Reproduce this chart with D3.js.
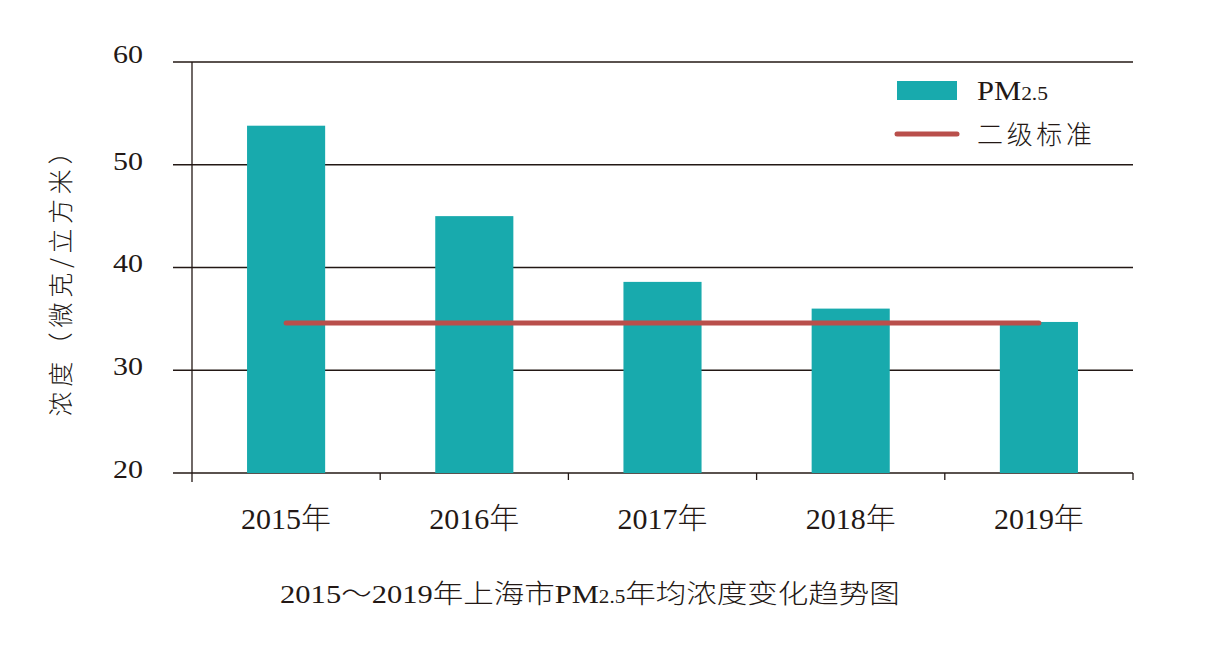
<!DOCTYPE html>
<html><head><meta charset="utf-8">
<script src="https://cdn.jsdelivr.net/npm/d3@7"></script>
<style>body{margin:0;background:#fff} text{font-weight:300}</style>
</head><body>
<svg id="c" width="1225" height="646"></svg>
<script>
const categories = ["2015年","2016年","2017年","2018年","2019年"];
const pm25 = [53.8, 45.0, 38.6, 36.0, 34.7];
const standard = [34.6, 34.6, 34.6, 34.6, 34.6];
const yTicks = [20, 30, 40, 50, 60];

const svg = d3.select("#c");
const L = 192, R = 1133, T = 62, B = 473;
const x = d3.scaleBand().domain(categories).range([L, R]).paddingInner(0.585).paddingOuter(0.2925);
const xb = d3.scaleBand().domain(categories).range([L, R]);
const y = d3.scaleLinear().domain([20, 60]).range([B, T]);
const ink = "#231815";
const serif = "'Liberation Serif','Times New Roman','Noto Sans CJK SC',serif";
const sans = "'Noto Sans CJK SC','Noto Sans',sans-serif";

// horizontally stretch a text node to a target width, anchored at ax
function stretch(node, target, ax) {
  const w = node.getBBox().width;
  const s = target / w;
  d3.select(node).attr("transform", `translate(${ax},0) scale(${s},1) translate(${-ax},0)`);
}

// gridlines
svg.append("g").selectAll("line").data(yTicks).join("line")
  .attr("x1", 173).attr("x2", R).attr("y1", d => y(d)).attr("y2", d => y(d))
  .attr("stroke", ink).attr("stroke-width", 1.3);

// y axis line
svg.append("line").attr("x1", L).attr("x2", L).attr("y1", T).attr("y2", 482)
  .attr("stroke", ink).attr("stroke-width", 1.3);

// x ticks at band boundaries
const bounds = categories.map(c => xb(c)).concat([R]);
svg.append("g").selectAll("line").data(bounds.slice(1)).join("line")
  .attr("x1", d => d).attr("x2", d => d).attr("y1", B).attr("y2", 480)
  .attr("stroke", ink).attr("stroke-width", 1.3);

// y labels
svg.append("g").selectAll("text").data(yTicks).join("text")
  .attr("x", 143).attr("y", (d, i) => y(d) + (i === yTicks.length - 1 ? 1 : 5))
  .attr("text-anchor", "end").attr("font-family", serif).attr("font-size", 25)
  .attr("fill", ink).text(d => d)
  .each(function() { stretch(this, 30, 143); });

// bars
svg.append("g").selectAll("rect").data(pm25).join("rect")
  .attr("x", (d, i) => x(categories[i])).attr("width", x.bandwidth())
  .attr("y", d => y(d)).attr("height", d => y(20) - y(d))
  .attr("fill", "#18aaad");

// standard line
const line = d3.line().x((d, i) => xb(categories[i]) + xb.bandwidth() / 2).y(d => y(d));
svg.append("path").datum(standard).attr("d", line)
  .attr("fill", "none").attr("stroke", "#b94f4b").attr("stroke-width", 5).attr("stroke-linecap", "round");

// x labels
svg.append("g").selectAll("text").data(categories).join("text")
  .attr("x", d => xb(d) + xb.bandwidth() / 2).attr("y", 529)
  .attr("text-anchor", "middle").attr("font-family", serif).attr("font-size", 29)
  .attr("fill", ink).text(d => d)
  .each(function(d) { stretch(this, 90, xb(d) + xb.bandwidth() / 2); });

// y title
svg.append("text").attr("transform", "translate(70,278) rotate(-90)")
  .attr("text-anchor", "middle").attr("font-family", sans).attr("font-size", 25)
  .attr("textLength", 277).attr("lengthAdjust", "spacing")
  .attr("fill", ink).text("浓度（微克/立方米）");

// legend
svg.append("rect").attr("x", 897).attr("y", 81).attr("width", 60).attr("height", 19).attr("fill", "#18aaad");
const lt = svg.append("text").attr("x", 977).attr("y", 100).attr("font-family", serif).attr("font-size", 27).attr("fill", ink);
lt.append("tspan").text("PM");
lt.append("tspan").attr("font-size", 19).text("2.5");
stretch(lt.node(), 71, 977);
svg.append("line").attr("x1", 897).attr("x2", 957).attr("y1", 134).attr("y2", 134)
  .attr("stroke", "#b94f4b").attr("stroke-width", 5).attr("stroke-linecap", "round");
svg.append("text").attr("x", 977).attr("y", 144).attr("font-family", sans).attr("font-size", 26)
  .attr("textLength", 115).attr("lengthAdjust", "spacing")
  .attr("fill", ink).text("二级标准");

// title
const tt = svg.append("text").attr("x", 590).attr("y", 603).attr("text-anchor", "middle")
  .attr("font-family", serif).attr("font-size", 26).attr("fill", ink);
tt.append("tspan").text("2015～2019年上海市PM");
tt.append("tspan").attr("font-size", 18).text("2.5");
tt.append("tspan").text("年均浓度变化趋势图");
stretch(tt.node(), 620, 590);
</script>
</body></html>
